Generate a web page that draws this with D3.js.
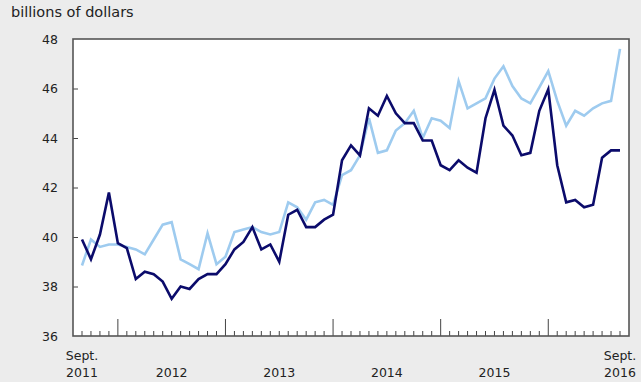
<!DOCTYPE html>
<html>
<head>
<meta charset="utf-8">
<script src="https://cdn.jsdelivr.net/npm/d3@7"></script>
<style>
  html, body { margin: 0; padding: 0; background: #ececec; }
  svg { display: block; }
  text { font-family: "DejaVu Sans", Verdana, sans-serif; fill: #222; }
</style>
</head>
<body>
<svg id="chart" width="641" height="382"></svg>
<script>
// Monthly, Sept. 2011 to Sept. 2016
const startYear = 2011, startMonth = 8; // September (0-based)
const darkSeries = [
  39.9, 39.1, 40.1, 41.8, 39.75, 39.55, 38.3, 38.6, 38.5, 38.2,
  37.5, 38.0, 37.9, 38.3, 38.5, 38.5, 38.9, 39.5, 39.8, 40.4,
  39.5, 39.7, 39.0, 40.9, 41.1, 40.4, 40.4, 40.7, 40.9, 43.1,
  43.7, 43.3, 45.2, 44.9, 45.7, 45.0, 44.6, 44.6, 43.9, 43.9,
  42.9, 42.7, 43.1, 42.8, 42.6, 44.8, 45.95, 44.5, 44.1, 43.3,
  43.4, 45.1, 45.97, 42.9, 41.4, 41.5, 41.2, 41.3, 43.2, 43.5,
  43.5
];
const lightSeries = [
  38.85, 39.9, 39.6, 39.7, 39.7, 39.6, 39.5, 39.3, 39.9, 40.5,
  40.6, 39.1, 38.9, 38.7, 40.15, 38.9, 39.2, 40.2, 40.3, 40.4,
  40.2, 40.1, 40.2, 41.4, 41.2, 40.7, 41.4, 41.5, 41.3, 42.5,
  42.7, 43.3, 44.8, 43.4, 43.5, 44.3, 44.6, 45.1, 44.0, 44.8,
  44.7, 44.4, 46.3, 45.2, 45.4, 45.6, 46.4, 46.9, 46.1, 45.6,
  45.4, 46.05, 46.7, 45.5, 44.5, 45.1, 44.9, 45.2, 45.4, 45.5,
  47.6
];
const yTicks = [36, 38, 40, 42, 44, 46, 48];
const yearLabels = ["2012", "2013", "2014", "2015"];
const endLabels = [["Sept.", "2011"], ["Sept.", "2016"]];
const yTitle = "billions of dollars";

const svg = d3.select("#chart");
const L = 73, R = 629, T = 39, B = 336;
const n = darkSeries.length;

const x = d3.scaleLinear().domain([0, n - 1]).range([82, 620]);
const y = d3.scaleLinear().domain([36, 48]).range([B, T]);

// plot area
svg.append("rect").attr("x", L).attr("y", T).attr("width", R - L).attr("height", B - T)
  .attr("fill", "#fff").attr("stroke", "none");

// title
svg.append("text").attr("x", 11).attr("y", 17).attr("font-size", 14.5).text(yTitle);

// y axis labels and small ticks
const yAxis = d3.axisLeft(y).tickValues(yTicks).tickSize(5).tickPadding(10).tickFormat(d3.format("d"));
const gy = svg.append("g").attr("transform", `translate(${L},0)`).call(yAxis);
gy.select(".domain").remove();
gy.selectAll("line").attr("stroke", "#444").attr("x1", 0).attr("x2", 5);
gy.selectAll("text").attr("font-size", 12.5).attr("fill", "#222").style("font-family", '"DejaVu Sans", Verdana, sans-serif');
gy.selectAll(".tick").filter(d => d === 36 || d === 48).select("line").remove();

// x ticks: minor each month, major at January
const idx = d3.range(n);
const monthOf = i => (startMonth + i) % 12;
const gx = svg.append("g");
gx.selectAll("line.minor").data(idx).join("line")
  .attr("x1", d => x(d)).attr("x2", d => x(d))
  .attr("y1", B).attr("y2", d => monthOf(d) === 0 ? B - 17 : B - 5)
  .attr("stroke", "#444").attr("stroke-width", 1);

// year labels centered on July
const julIdx = idx.filter(i => monthOf(i) === 6);
gx.selectAll("text.year").data(julIdx).join("text")
  .attr("x", d => x(d)).attr("y", 377).attr("text-anchor", "middle").attr("font-size", 12.5)
  .text((d, k) => yearLabels[k]);

// end labels
[[0, endLabels[0]], [n - 1, endLabels[1]]].forEach(([i, lab]) => {
  gx.append("text").attr("x", x(i)).attr("y", 360).attr("text-anchor", "middle").attr("font-size", 12.5).text(lab[0]);
  gx.append("text").attr("x", x(i)).attr("y", 377).attr("text-anchor", "middle").attr("font-size", 12.5).text(lab[1]);
});

// lines
const line = d3.line().x((d, i) => x(i)).y(d => y(d));
svg.append("path").datum(lightSeries).attr("d", line).attr("fill", "none")
  .attr("stroke", "#9ecbef").attr("stroke-width", 2.6).attr("stroke-linejoin", "miter");
svg.append("path").datum(darkSeries).attr("d", line).attr("fill", "none")
  .attr("stroke", "#0b0b6b").attr("stroke-width", 2.6).attr("stroke-linejoin", "miter");

// frame
svg.append("rect").attr("x", L).attr("y", T).attr("width", R - L).attr("height", B - T)
  .attr("fill", "none").attr("stroke", "#555").attr("stroke-width", 1.6);
</script>
</body>
</html>
